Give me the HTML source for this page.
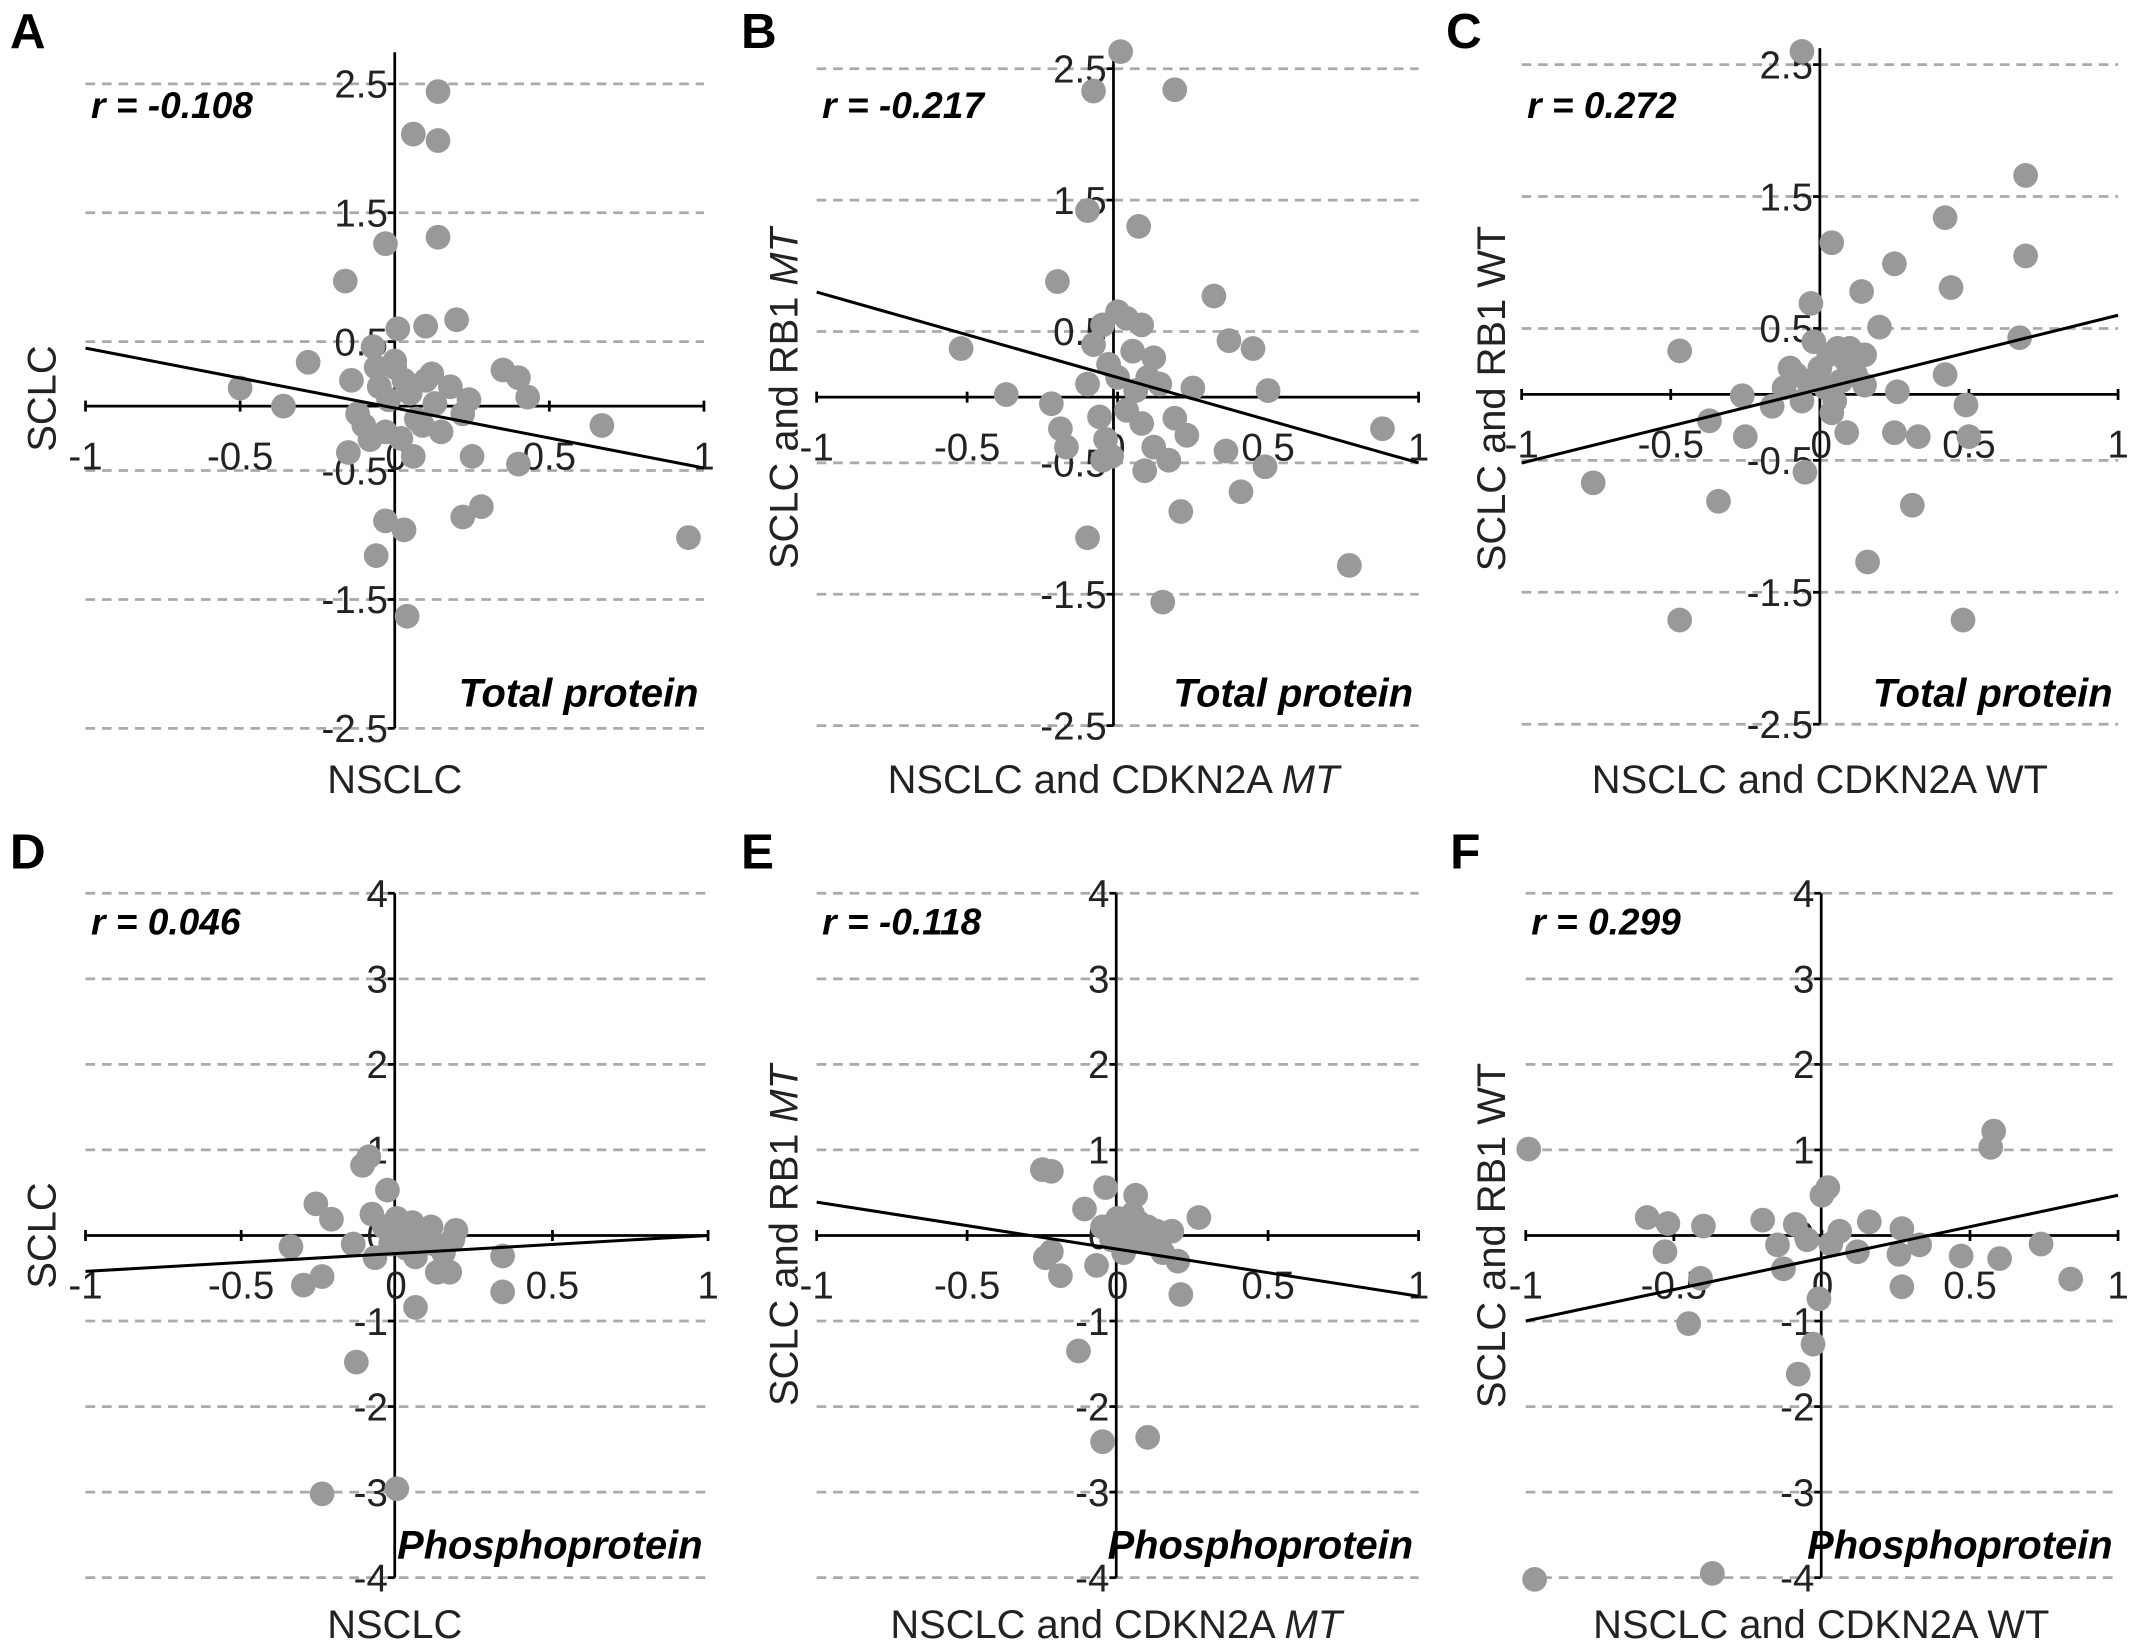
<!DOCTYPE html>
<html><head><meta charset="utf-8"><style>
html,body{margin:0;padding:0;background:#fff;}
svg{display:block;}
text{font-family:"Liberation Sans",Arial,sans-serif;}
</style></head><body>
<svg id="fig" width="2150" height="1645" viewBox="0 0 1564 1197" xmlns="http://www.w3.org/2000/svg"></svg>
<script>
// ---- data ----
const ptsA_x=[0.14,0.06,0.14,0.14,-0.03,-0.16,0.20,0.10,0.01,-0.07,-0.28,0.35,0.40,-0.50,-0.36,0.24,0.43,0.67,0.22,0.25,0.40,0.28,0.22,-0.03,0.03,-0.06,0.04,0.95,-0.15,-0.08,-0.12,0.06,-0.14,0.00,0.03,0.05,-0.05,0.10,0.12,-0.02,0.07,0.09,-0.03,0.02,0.15,0.00,-0.06,0.18,-0.10,0.13];
const ptsA_y=[2.44,2.11,2.06,1.31,1.26,0.97,0.67,0.62,0.60,0.46,0.34,0.28,0.22,0.14,0.00,0.05,0.07,-0.15,-0.06,-0.39,-0.45,-0.78,-0.86,-0.89,-0.96,-1.16,-1.63,-1.02,-0.36,-0.26,-0.06,-0.39,0.20,0.30,0.20,0.10,0.15,0.20,0.25,0.05,-0.10,-0.15,-0.20,-0.25,-0.20,0.35,0.30,0.15,-0.15,0.02];
const ptsB_x=[0.01,-0.08,0.19,-0.10,0.07,-0.20,0.32,-0.52,-0.37,0.37,0.45,0.50,0.88,0.77,0.36,0.49,0.41,0.21,0.15,-0.10,-0.22,-0.19,-0.17,-0.05,0.09,0.17,0.23,0.19,0.25,0.00,0.03,-0.05,0.08,-0.08,0.05,0.12,-0.03,0.10,0.00,0.06,-0.10,0.14,0.03,-0.06,0.08,-0.04,0.12,-0.02];
const ptsB_y=[2.63,2.33,2.34,1.42,1.30,0.88,0.77,0.37,0.02,0.43,0.37,0.05,-0.24,-1.28,-0.41,-0.53,-0.72,-0.87,-1.56,-1.07,-0.05,-0.24,-0.38,-0.48,-0.56,-0.48,-0.29,-0.16,0.07,0.65,0.60,0.55,0.55,0.40,0.35,0.30,0.25,0.15,0.15,0.05,0.10,0.10,-0.10,-0.15,-0.20,-0.32,-0.38,-0.45];
const ptsC_x=[-0.06,0.69,0.42,0.69,0.04,0.25,0.44,0.14,-0.03,0.20,0.67,0.42,-0.47,0.49,0.50,0.33,0.25,0.09,0.31,0.16,0.48,-0.47,-0.34,-0.76,-0.37,-0.26,-0.25,-0.16,-0.05,0.26,0.15,0.04,0.00,0.03,0.06,0.09,-0.04,0.12,-0.08,0.02,0.07,-0.12,0.15,-0.02,0.10,-0.10,0.05,-0.06];
const ptsC_y=[2.60,1.66,1.34,1.05,1.15,0.99,0.81,0.78,0.69,0.51,0.43,0.15,0.33,-0.08,-0.32,-0.32,-0.29,-0.29,-0.84,-1.27,-1.71,-1.71,-0.81,-0.67,-0.20,-0.01,-0.32,-0.09,-0.59,0.02,0.07,-0.14,0.20,0.30,0.35,0.25,0.10,0.15,0.15,0.05,0.10,0.05,0.30,0.40,0.35,0.20,-0.05,-0.05];
const ptsD_x=[-0.09,-0.11,-0.26,-0.03,-0.21,-0.34,-0.30,-0.24,-0.14,-0.07,0.06,0.34,0.34,0.13,0.17,0.19,0.11,-0.13,-0.24,0.00,0.00,0.05,0.02,-0.04,0.08,0.12,0.15,-0.02,0.06,0.18,0.03,-0.08];
const ptsD_y=[0.92,0.82,0.37,0.53,0.19,-0.13,-0.58,-0.48,-0.10,-0.26,-0.84,-0.24,-0.66,-0.43,-0.43,0.06,0.10,-1.48,-3.02,-2.96,0.20,0.15,0.05,0.10,-0.05,-0.10,-0.20,-0.10,-0.25,-0.05,-0.15,0.25];
const ptsE_x=[-0.25,-0.22,-0.04,0.06,0.27,-0.11,-0.22,-0.19,-0.07,0.21,-0.13,-0.05,0.10,-0.24,0.00,0.05,0.10,0.03,-0.05,0.08,0.12,0.15,0.20,0.02,-0.02,0.18,0.07,0.13];
const ptsE_y=[0.77,0.75,0.56,0.47,0.21,0.31,-0.19,-0.47,-0.35,-0.69,-1.35,-2.41,-2.36,-0.26,0.20,0.25,0.10,0.05,0.10,-0.05,-0.10,-0.20,-0.30,-0.20,-0.05,0.05,0.15,0.05];
const ptsF_x=[-0.99,0.58,0.57,-0.97,-0.37,-0.59,-0.52,-0.40,-0.53,-0.45,-0.41,-0.20,-0.09,0.02,0.00,0.16,0.27,0.27,0.47,0.60,0.74,0.84,-0.01,-0.03,-0.08,-0.13,-0.15,0.12,0.26,0.33,0.03,0.06,-0.05];
const ptsF_y=[1.01,1.22,1.03,-4.02,-3.95,0.21,0.14,0.11,-0.19,-1.03,-0.50,0.18,0.13,0.56,0.47,0.16,0.08,-0.60,-0.24,-0.27,-0.10,-0.51,-0.74,-1.27,-1.62,-0.39,-0.11,-0.19,-0.22,-0.11,-0.10,0.05,-0.05];
const fitStart=[0.45,0.80,-0.52,-0.42,0.39,-1.00];   // y at x=-1
const fitEnd=[-0.48,-0.50,0.60,0.00,-0.71,0.47];      // y at x=1
const rLabels=["r = -0.108","r = -0.217","r = 0.272","r = 0.046","r = -0.118","r = 0.299"];
const letters=["A","B","C","D","E","F"];
const xTicks=[-1,-0.5,0,0.5,1];
const xTickLabels=["-1","-0.5","0","0.5","1"];
const yTicksTop=[2.5,1.5,0.5,-0.5,-1.5,-2.5];
const yTickLabelsTop=["2.5","1.5","0.5","-0.5","-1.5","-2.5"];
const yTicksBot=[4,3,2,1,0,-1,-2,-3,-4];
const yTickLabelsBot=["4","3","2","1","0","-1","-2","-3","-4"];

const svg=document.getElementById('fig');
const NS="http://www.w3.org/2000/svg";
function mk(tag,attrs,parent){const e=document.createElementNS(NS,tag);for(const k in attrs)e.setAttribute(k,attrs[k]);(parent||svg).appendChild(e);return e;}

const panels=[
 {x0:62,x1:512,ox:287,yTop:61,yBot:530,vTop:38,top:true,xs:ptsA_x,ys:ptsA_y,ylab:"SCLC",ylabIt:"",xlab:"NSCLC",xlabIt:"",ylx:30,note:"Total protein"},
 {x0:594,x1:1032,ox:810,yTop:50,yBot:528,vTop:38,top:true,xs:ptsB_x,ys:ptsB_y,ylab:"SCLC and RB1 ",ylabIt:"MT",xlab:"NSCLC and CDKN2A ",xlabIt:"MT",ylx:570,note:"Total protein"},
 {x0:1107,x1:1541,ox:1324,yTop:47,yBot:527,vTop:35,top:true,xs:ptsC_x,ys:ptsC_y,ylab:"SCLC and RB1 WT",ylabIt:"",xlab:"NSCLC and CDKN2A WT",xlabIt:"",ylx:1085,note:"Total protein"},
 {x0:62,x1:515,ox:287,yTop:650,yBot:1148,vTop:650,top:false,xs:ptsD_x,ys:ptsD_y,ylab:"SCLC",ylabIt:"",xlab:"NSCLC",xlabIt:"",ylx:30,note:"Phosphoprotein"},
 {x0:594,x1:1032,ox:812,yTop:650,yBot:1148,vTop:650,top:false,xs:ptsE_x,ys:ptsE_y,ylab:"SCLC and RB1 ",ylabIt:"MT",xlab:"NSCLC and CDKN2A ",xlabIt:"MT",ylx:570,note:"Phosphoprotein"},
 {x0:1110,x1:1541,ox:1325,yTop:650,yBot:1148,vTop:650,top:false,xs:ptsF_x,ys:ptsF_y,ylab:"SCLC and RB1 WT",ylabIt:"",xlab:"NSCLC and CDKN2A WT",xlabIt:"",ylx:1085,note:"Phosphoprotein"}
];

panels.forEach((p,i)=>{
  const g=mk('g',{});
  
  
  const ymax=p.top?2.5:4, ymin=-ymax;
  const sx=v=>p.x0+(v+1)/2*(p.x1-p.x0);
  const sy=v=>p.yTop+(ymax-v)/(ymax-ymin)*(p.yBot-p.yTop);
  const ticks=p.top?yTicksTop:yTicksBot, tl=p.top?yTickLabelsTop:yTickLabelsBot;
  ticks.forEach((t,k)=>{
    if(t!==0){const l=mk('line',{x1:p.x0,x2:p.x1,y1:sy(t),y2:sy(t),stroke:'#aaa','stroke-width':2,'stroke-dasharray':'7,5'},g);
      
      }
  });
  const ax=mk('line',{x1:p.x0,x2:p.x1,y1:sy(0),y2:sy(0),stroke:'#000','stroke-width':2},g);
  
  
  const ay=mk('line',{x1:p.ox,x2:p.ox,y1:p.vTop,y2:p.yBot,stroke:'#000','stroke-width':2},g);
  
  
  xTicks.forEach((t,k)=>{
    mk('line',{x1:sx(t),x2:sx(t),y1:sy(0)-4,y2:sy(0)+4,stroke:'#000','stroke-width':2},g);
    if(t===0) return;
    const tx=mk('text',{x:sx(t),y:sy(0)+46,'font-size':28,'text-anchor':'middle',fill:'#222'},g);
    tx.textContent=xTickLabels[k];
    
    
  });
  ticks.forEach((t,k)=>{
    mk('line',{x1:p.ox-5,x2:p.ox,y1:sy(t),y2:sy(t),stroke:'#000','stroke-width':2},g);
    const tx=mk('text',{x:p.ox-5,y:sy(t)+10,'font-size':28,'text-anchor':'end',fill:'#222'},g);
    tx.textContent=tl[k];
    
    
  });
  const z=mk('text',{x:p.ox+1,y:sy(0)+46,'font-size':28,'text-anchor':'middle',fill:'#222'},g);
  z.textContent="0";
  
  
  p.xs.forEach((xv,k)=>{
    const c=mk('circle',{cx:sx(xv),cy:sy(p.ys[k]),r:9,fill:'#999'},g);
    
    
  });
  const fl=mk('line',{x1:sx(-1),y1:sy(fitStart[i]),x2:sx(1),y2:sy(fitEnd[i]),stroke:'#000','stroke-width':2.2},g);
  
  
  const L=mk('text',{x:p.x0-55,y:p.top?35:632,'font-size':36,'font-weight':'bold',fill:'#000'},g);
  L.textContent=letters[i];
  
  
  const r=mk('text',{x:p.x0+4,y:p.top?86:680,'font-size':27,'font-weight':'bold','font-style':'italic',fill:'#000'},g);
  r.textContent=rLabels[i];
  
  
  const n=mk('text',{x:p.x1-4,y:p.top?514:1134,'font-size':29,'font-weight':'bold','font-style':'italic','text-anchor':'end',fill:'#000'},g);
  n.textContent=p.note;
  
  
  const xt=mk('text',{x:p.ox,y:p.top?577:1192,'font-size':29,'text-anchor':'middle',fill:'#222'},g);
  
  
  xt.appendChild(document.createTextNode(p.xlab));
  if(p.xlabIt){const ts=mk('tspan',{'font-style':'italic'},xt);ts.textContent=p.xlabIt;}
  const cy=p.top?290:899;
  const yt=mk('text',{x:0,y:0,'font-size':29,'text-anchor':'middle',fill:'#222',transform:`translate(${p.ylx+10},${cy}) rotate(-90)`},g);
  
  
  yt.appendChild(document.createTextNode(p.ylab));
  if(p.ylabIt){const ts=mk('tspan',{'font-style':'italic'},yt);ts.textContent=p.ylabIt;}
});
</script>
</body></html>
